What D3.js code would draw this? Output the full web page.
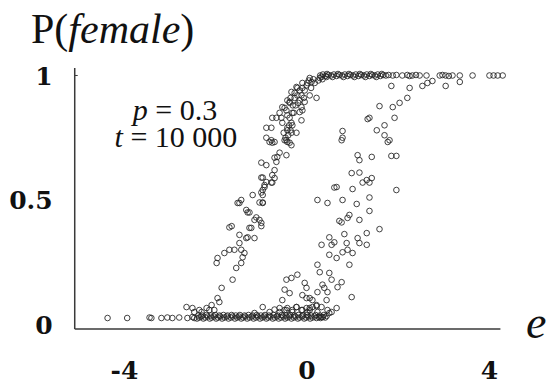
<!DOCTYPE html>
<html>
<head>
<meta charset="utf-8">
<script src="https://cdn.jsdelivr.net/npm/d3@7/dist/d3.min.js"></script>
<style>
  body { margin: 0; background: #fff; }
  .serif, .serif tspan { font-family: "Liberation Serif", "Times New Roman", serif; }
</style>
</head>
<body>
<div id="chart"></div>
<script>
// tick values / labels
var xTicks = [-4, 0, 4];
var xTickLabels = ["-4", "0", "4"];
var yTicks = [0, 0.5, 1];
var yTickLabels = ["0", "0.5", "1"];

// points: [e, P(female)]
var lowerBand = [
  [-4.36,0.016],[-3.93,0.016],[-3.44,0.018],[-3.40,0.016],[-3.18,0.016],[-3.05,0.018],
  [-2.94,0.016],[-2.79,0.018],[-2.61,0.016],[-2.50,0.02],[-2.46,0.016],
  [-2.40,0.014],[-2.35,0.018],[-2.31,0.022],[-2.26,0.014],[-2.22,0.018],[-2.17,0.022],
  [-2.12,0.014],[-2.08,0.018],[-2.03,0.022],[-1.98,0.014],[-1.94,0.018],[-1.89,0.022],
  [-1.85,0.014],[-1.80,0.018],[-1.75,0.022],[-1.71,0.014],[-1.66,0.018],[-1.62,0.022],
  [-1.57,0.014],[-1.52,0.018],[-1.48,0.022],[-1.43,0.014],[-1.39,0.018],[-1.34,0.022],
  [-1.30,0.014],[-1.25,0.018],[-1.20,0.022],[-1.16,0.014],[-1.11,0.018],[-1.07,0.022],
  [-1.02,0.014],[-0.97,0.018],[-0.93,0.022],[-0.88,0.014],[-0.84,0.018],[-0.79,0.022],
  [-0.74,0.014],[-0.70,0.018],[-0.65,0.022],[-0.61,0.014],[-0.56,0.018],[-0.51,0.022],
  [-0.47,0.014],[-0.42,0.018],[-0.38,0.022],[-0.33,0.014],[-0.28,0.018],[-0.24,0.022],
  [-0.19,0.014],[-0.15,0.018],[-0.10,0.022],[-0.05,0.014],[-0.01,0.018],[0.04,0.022],
  [0.08,0.014],[0.13,0.018],[0.18,0.022],[0.22,0.016],[0.27,0.02],[0.31,0.016],
  [0.36,0.02],[0.41,0.018],
  [-2.37,0.026],[-2.28,0.026],[-2.19,0.028],[-2.10,0.026],[-2.00,0.028],[-1.91,0.026],
  [-1.82,0.028],[-1.73,0.026],[-1.64,0.028],[-1.55,0.026],[-1.46,0.028],[-1.36,0.026],
  [-1.27,0.028],[-1.18,0.026],[-1.09,0.028],[-1.00,0.026],[-0.91,0.028],[-0.82,0.026],
  [-0.72,0.028],[-0.63,0.026],[-0.54,0.028],[-0.45,0.026],[-0.36,0.028],[-0.27,0.026],
  [-0.18,0.028],[-0.08,0.026],[0.01,0.028],[0.10,0.026],[0.20,0.028],[0.29,0.026],
  [0.38,0.028],
  [-0.81,0.04],[-0.70,0.05],[-0.59,0.04],[-0.48,0.048],[-0.42,0.056],[-0.31,0.04],
  [-0.22,0.06],[-0.11,0.048],[0.00,0.056],[0.07,0.048],[0.13,0.06],[0.22,0.064]
];

var upperBand = [
  [0.30,0.99],[0.36,0.994],[0.42,0.988],[0.48,0.992],[0.54,0.99],[0.60,0.994],
  [0.66,0.988],[0.72,0.992],[0.78,0.99],[0.84,0.994],[0.90,0.988],[0.96,0.992],
  [1.02,0.99],[1.08,0.994],[1.14,0.988],[1.20,0.992],[1.26,0.99],[1.32,0.994],
  [1.38,0.988],[1.44,0.992],[1.50,0.99],[1.56,0.994],[1.62,0.988],[1.68,0.992],
  [1.74,0.99],[1.80,0.992],
  [0.33,0.984],[0.45,0.996],[0.57,0.984],[0.69,0.996],[0.81,0.984],[0.93,0.996],
  [1.05,0.984],[1.17,0.996],[1.29,0.984],[1.41,0.996],[1.53,0.984],[1.65,0.996],
  [1.89,0.99],[1.97,0.992],[2.10,0.99],[2.21,0.992],[2.26,0.988],[2.32,0.99],
  [2.40,0.992],[2.48,0.99],[2.63,0.99],[2.92,0.99],[2.98,0.992],[3.05,0.99],
  [3.12,0.988],[3.20,0.99],[3.36,0.99],[3.64,0.99],[4.01,0.99],[4.10,0.99],
  [4.19,0.99],[4.30,0.99]
];

var leftCurve = [
  [-2.63,0.06],[-2.50,0.056],[-2.35,0.048],[-2.19,0.056],[-2.08,0.068],[-2.02,0.048],
  [-2.30,0.04],[-2.46,0.04],[-2.13,0.048],[-1.91,0.08],[-1.95,0.096],[-1.86,0.137],
  [-1.62,0.17],[-1.54,0.217],[-1.43,0.237],[-1.36,0.277],[-1.43,0.29],[-1.58,0.29],
  [-1.80,0.277],[-1.95,0.257],[-1.97,0.237],[-1.69,0.29],[-1.47,0.317],[-1.40,0.26],
  [-1.47,0.35],[-1.32,0.337],[-1.14,0.337],[-1.29,0.34],[-1.69,0.38],[-1.25,0.378],
  [-1.64,0.385],[-1.14,0.41],[-0.99,0.398],[-0.99,0.385],[-1.21,0.378],[-1.29,0.44],
  [-1.10,0.42],[-1.03,0.41],[-1.32,0.45],[-1.25,0.44],[-1.47,0.478],[-1.43,0.49],
  [-1.51,0.478],[-1.18,0.51],[-0.96,0.48],[-1.03,0.48],[-0.96,0.478],[-0.96,0.53],
  [-0.92,0.542],[-0.99,0.52],[-0.96,0.51],[-0.92,0.55],[-0.88,0.562],[-0.99,0.58],
  [-0.96,0.58],[-0.75,0.56],[-0.77,0.56],[-0.70,0.578],[-0.75,0.59],[-0.70,0.61],
  [-0.99,0.64],[-0.88,0.63],[-0.66,0.643],[-0.70,0.66],[-0.64,0.663],[-0.59,0.68],
  [-0.44,0.67],[-0.81,0.723],[-0.75,0.72],[-0.70,0.723],[-0.42,0.723],[-0.33,0.71],
  [-0.48,0.73],[-0.37,0.72],[-0.88,0.74],[-0.77,0.73],[-0.44,0.73],[-0.42,0.77],
  [-0.33,0.76],[-0.22,0.76],[-0.88,0.78],[-0.77,0.78],[-0.53,0.80],[-0.33,0.80],
  [-0.31,0.79],[-0.75,0.82],[-0.66,0.82],[-0.59,0.84],[-0.55,0.82],[-0.42,0.83],
  [-0.37,0.82],[-0.31,0.84],[-0.15,0.843],[-0.11,0.81],[-0.53,0.863],[-0.44,0.85],
  [-0.11,0.863],[-0.09,0.85],[-0.42,0.89],[-0.37,0.88],[-0.15,0.89],[-0.04,0.884],
  [-0.37,0.884],[-0.33,0.924],[-0.26,0.92],[-0.20,0.94],[-0.22,0.944],[-0.11,0.91],
  [0.07,0.91],[0.22,0.90],[-0.09,0.96],[0.00,0.95],[0.11,0.964],[0.07,0.98],
  [0.29,0.98],[0.44,0.984],
  [-0.26,0.90],[-0.20,0.91],[-0.15,0.93],[-0.09,0.94],[-0.04,0.93],[0.02,0.96],
  [-0.30,0.87],[-0.48,0.86],[-0.24,0.87],[-0.35,0.90],[0.15,0.975],[0.05,0.97],
  [-0.28,0.84],[-0.18,0.88],[-0.06,0.90],[0.10,0.94],[0.18,0.96],[0.26,0.97],
  [0.35,0.975],
  [-0.42,0.78],[-0.40,0.75],[-0.50,0.76],[-0.38,0.79],[-0.46,0.74],[-0.35,0.77],
  [-0.96,0.06],[-1.14,0.036]
];

var rightCurve = [
  [1.86,0.948],[2.26,0.94],[2.54,0.948],[2.76,0.968],[2.65,0.96],[3.05,0.948],
  [3.36,0.964],[2.21,0.90],[2.04,0.88],[1.89,0.863],[1.60,0.867],[1.93,0.82],
  [1.38,0.82],[1.71,0.79],[1.54,0.77],[1.71,0.75],[1.82,0.73],[0.79,0.767],
  [0.79,0.74],[1.34,0.815],[1.78,0.723],[0.77,0.73],
  [1.12,0.67],[1.16,0.65],[1.43,0.663],[1.86,0.667],[1.97,0.667],[0.99,0.598],
  [1.16,0.60],[1.32,0.57],[1.43,0.578],[1.23,0.56],[0.61,0.54],[1.01,0.534],
  [1.97,0.53],[0.66,0.542],[1.38,0.56],
  [0.24,0.49],[0.46,0.478],[0.79,0.49],[1.10,0.474],[1.38,0.50],[1.38,0.446],
  [0.94,0.43],[0.90,0.418],[0.72,0.406],[0.77,0.40],[1.16,0.41],[1.60,0.373],
  [1.32,0.357],[0.83,0.353],[0.50,0.34],[1.12,0.337],
  [0.33,0.31],[0.55,0.31],[0.61,0.32],[0.88,0.317],[0.90,0.29],[1.16,0.317],
  [1.32,0.31],[0.50,0.27],[0.66,0.257],[0.79,0.28],[1.01,0.277],[0.94,0.23],
  [0.24,0.23],[0.29,0.20],[0.50,0.197],[0.55,0.17],[0.35,0.15],[0.46,0.12],
  [0.77,0.16],[0.68,0.14],[-0.44,0.17],[-0.33,0.177],[-0.20,0.19],[-0.04,0.157],
  [0.00,0.137],[-0.48,0.13],[-0.37,0.116],[-0.53,0.088],[-0.09,0.108],[0.00,0.096],
  [0.13,0.088],[0.22,0.068],[0.33,0.06],[0.44,0.088],[0.24,0.04],[0.46,0.048],
  [0.55,0.04],[0.66,0.056],[0.33,0.02],[0.44,0.024],[0.99,0.10],[-0.31,0.048],
  [-0.09,0.048],[0.07,0.056],[-0.22,0.06],[-0.44,0.048],[-0.59,0.056],[0.02,0.04],
  [0.50,0.036],[0.07,0.096],[0.24,0.12],[0.39,0.137]
];

var width = 546, height = 384;

var svg = d3.select("#chart")
  .append("svg")
  .attr("width", width)
  .attr("height", height);

var x = d3.scaleLinear().domain([-4, 4]).range([124, 489]);
var y = d3.scaleLinear().domain([0, 1]).range([322, 73]);

var axisColor = "#3a3a3a";

// tick labels through d3 axes (no tick marks, no domain)
var gy = svg.append("g")
  .attr("transform", "translate(" + x(-5.08) + ",0)")
  .call(d3.axisLeft(y).tickValues(yTicks).tickSize(0).tickPadding(22)
    .tickFormat(function (d, i) { return yTickLabels[i]; }));
gy.select(".domain").remove();
gy.selectAll("text")
  .attr("dy", "0.45em")
  .attr("font-family", "DejaVu Serif")
  .attr("font-weight", "bold")
  .attr("font-size", 25)
  .attr("fill", "#111");

var gx = svg.append("g")
  .attr("transform", "translate(0," + y(-0.028) + ")")
  .call(d3.axisBottom(x).tickValues(xTicks).tickSize(0).tickPadding(32)
    .tickFormat(function (d, i) { return xTickLabels[i]; }));
gx.select(".domain").remove();
gx.selectAll("text")
  .attr("font-family", "DejaVu Serif")
  .attr("font-weight", "bold")
  .attr("font-size", 25)
  .attr("fill", "#111");

// axis lines
svg.append("line")
  .attr("x1", x(-5.08)).attr("x2", x(-5.08))
  .attr("y1", y(1.02)).attr("y2", y(-0.028))
  .attr("stroke", axisColor).attr("stroke-width", 1.5);
svg.append("line")
  .attr("x1", x(-5.08)).attr("x2", x(4.25))
  .attr("y1", y(-0.028)).attr("y2", y(-0.028))
  .attr("stroke", axisColor).attr("stroke-width", 1.5);
svg.append("line")
  .attr("x1", x(-5.08)).attr("x2", x(-5.08) + 3)
  .attr("y1", y(0.99)).attr("y2", y(0.99))
  .attr("stroke", axisColor).attr("stroke-width", 1);

// scatter points
var allPoints = lowerBand.concat(leftCurve, upperBand, rightCurve);
svg.append("g")
  .selectAll("circle")
  .data(allPoints)
  .enter()
  .append("circle")
  .attr("cx", function (d) { return x(d[0]); })
  .attr("cy", function (d) { return y(d[1]); })
  .attr("r", 2.8)
  .attr("fill", "none")
  .attr("stroke", "#222")
  .attr("stroke-opacity", 0.85)
  .attr("stroke-width", 1);

// labels
var title = svg.append("text")
  .attr("class", "serif")
  .attr("x", 31).attr("y", 43)
  .attr("font-size", 42)
  .attr("fill", "#111");
title.append("tspan").text("P(");
title.append("tspan").attr("font-style", "italic").text("female");
title.append("tspan").text(")");

var ann1 = svg.append("text")
  .attr("class", "serif")
  .attr("x", 175).attr("y", 120)
  .attr("text-anchor", "middle")
  .attr("font-size", 30)
  .attr("fill", "#111");
ann1.append("tspan").attr("font-style", "italic").text("p");
ann1.append("tspan").text(" = 0.3");

var ann2 = svg.append("text")
  .attr("class", "serif")
  .attr("x", 176).attr("y", 147)
  .attr("text-anchor", "middle")
  .attr("font-size", 30)
  .attr("fill", "#111");
ann2.append("tspan").attr("font-style", "italic").text("t");
ann2.append("tspan").text(" = 10 000");

svg.append("text")
  .attr("class", "serif")
  .attr("x", 526).attr("y", 338)
  .attr("font-style", "italic")
  .attr("font-size", 46)
  .attr("fill", "#111")
  .text("e");
</script>
</body>
</html>
